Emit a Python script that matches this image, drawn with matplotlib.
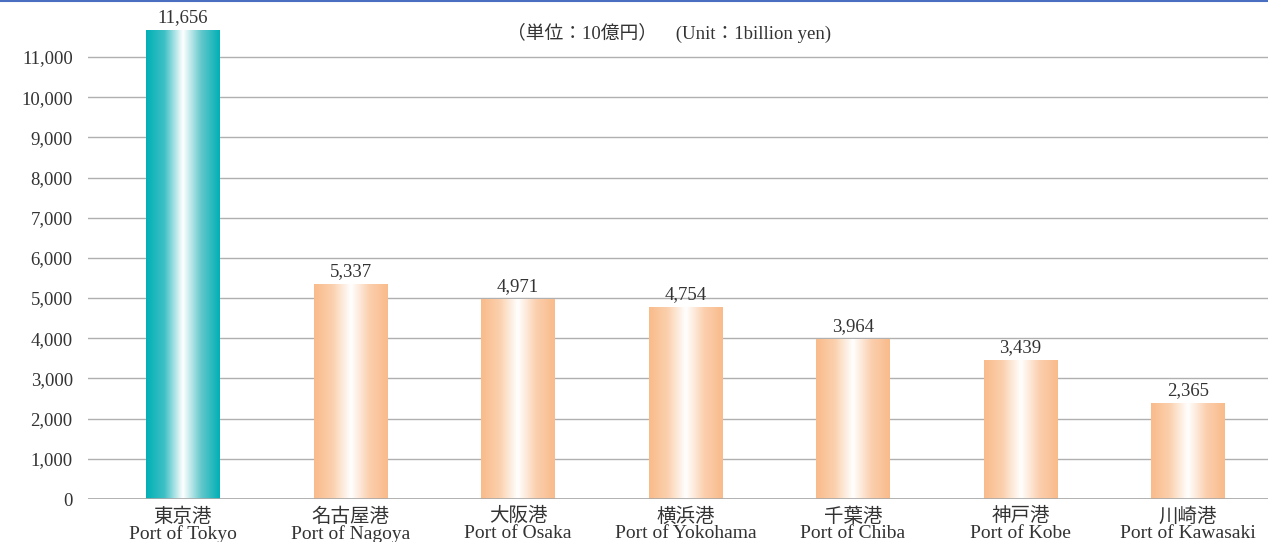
import numpy as np
import matplotlib
matplotlib.use("Agg")
import matplotlib.pyplot as plt
from matplotlib.colors import LinearSegmentedColormap
from matplotlib.lines import Line2D

plt.rcParams['font.family'] = ['Liberation Serif', 'Noto Sans CJK JP']

ports_jp = ["東京港", "名古屋港", "大阪港", "横浜港", "千葉港", "神戸港", "川崎港"]
ports_en = ["Port of Tokyo", "Port of Nagoya", "Port of Osaka", "Port of Yokohama",
            "Port of Chiba", "Port of Kobe", "Port of Kawasaki"]
values = [11656, 5337, 4971, 4754, 3964, 3439, 2365]
yticks = list(range(0, 11001, 1000))

fig = plt.figure(figsize=(12.68, 5.42), dpi=100)
W, H = 1268, 542
ax = fig.add_axes([88 / W, (H - 499) / H, (1268 - 88) / W, (499 - 12) / H])

teal = LinearSegmentedColormap.from_list("t", ["#00b0b6", "#3fc0c5", "#ffffff", "#62c7cb", "#00b0b6"])
peach = LinearSegmentedColormap.from_list("p", ["#f9bb8a", "#fbd0ad", "#ffffff", "#fbcfae", "#f9bb8a"])
grad = np.linspace(0, 1, 256).reshape(1, -1)

bw = 0.44
x = np.arange(len(values))
bars = ax.bar(x, values, width=bw, color="none", zorder=2)
for i, (b, v) in enumerate(zip(bars, values)):
    cm = teal if i == 0 else peach
    ax.imshow(grad, cmap=cm, aspect="auto", extent=[i - bw / 2, i + bw / 2, 0, v],
              zorder=3, interpolation="bicubic")
    ax.text(i, v + 110, f"{v:,}", ha="center", va="bottom", fontsize=13.5, color="#333333")

ax.set_xlim(-0.567, 6.478)
ax.set_ylim(0, 12120)
ax.set_yticks(yticks)
ax.set_yticklabels([f"{t:,}" for t in yticks], fontsize=13.5, color="#333333")
ax.set_xticks(x)
ax.set_xticklabels([f"{j}\n{e}" for j, e in zip(ports_jp, ports_en)], fontsize=14,
                   color="#333333", linespacing=0.95)
ax.tick_params(axis="both", length=0)
ax.tick_params(axis="x", pad=6)
ax.tick_params(axis="y", pad=11)
ax.grid(axis="y", color="#b0b0b0", linewidth=1.0, zorder=0)
ax.axhline(0, color="#a8a8a8", linewidth=1.2, zorder=4)
ax.set_axisbelow(True)
for s in ax.spines.values():
    s.set_visible(False)

fig.text(669 / W, 1 - 33 / H, "（単位：10億円）　(Unit：1billion yen)", ha="center", va="center",
         fontsize=13.5, color="#333333")
fig.add_artist(Line2D([0, 1], [1 - 0.5 / H, 1 - 0.5 / H], color="#4a6fc0", linewidth=1.5,
                      transform=fig.transFigure))

fig.savefig("out.png", dpi=100)
